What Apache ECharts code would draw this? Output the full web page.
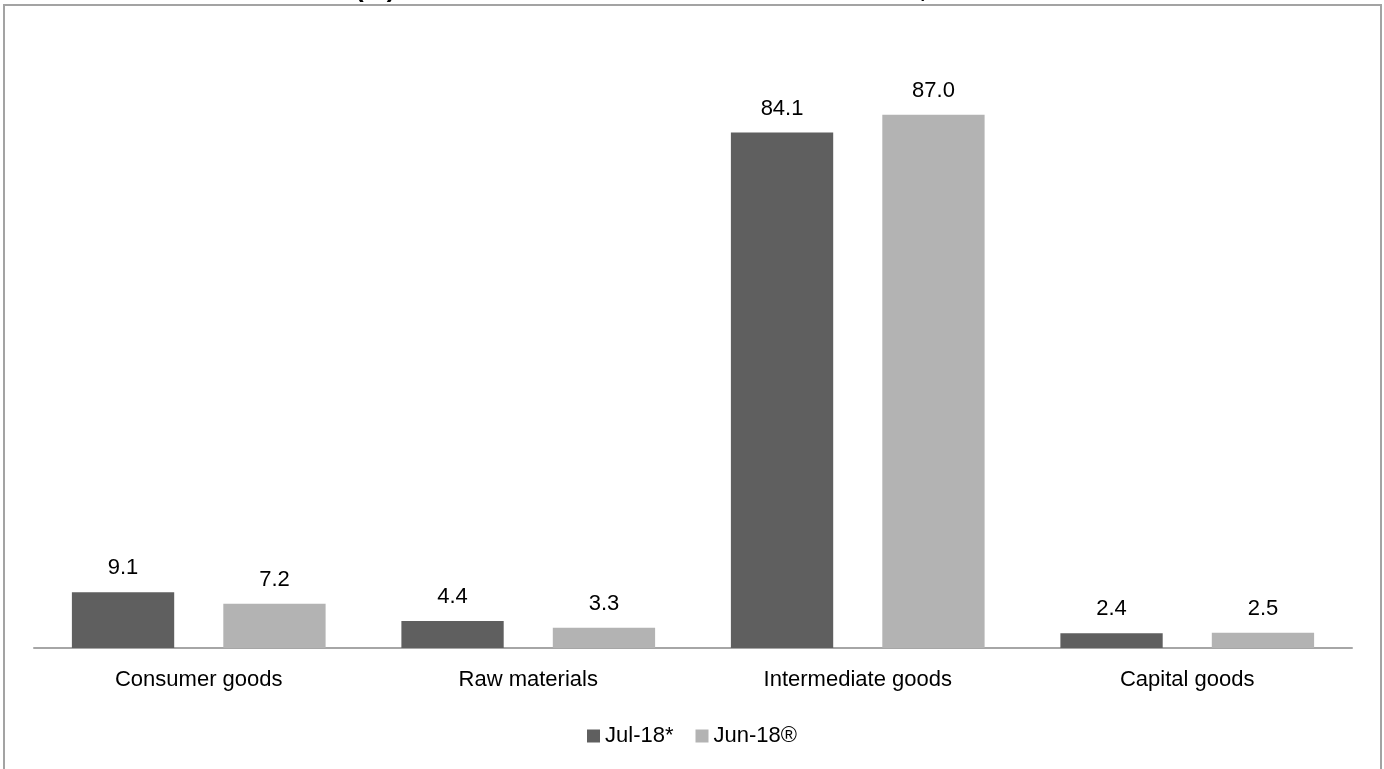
<!DOCTYPE html>
<html>
<head>
<meta charset="utf-8">
<script src="https://cdn.jsdelivr.net/npm/echarts@6/dist/echarts.min.js"></script>
<style>
html,body{margin:0;padding:0;background:#fff;}
#chart{width:1384px;height:769px;}
</style>
</head>
<body>
<div id="chart"></div>
<script>
const categories = ['Consumer goods', 'Raw materials', 'Intermediate goods', 'Capital goods'];
const seriesNames = ['Jul-18*', 'Jun-18®'];
const jul18 = [9.1, 4.4, 84.1, 2.4];
const jun18 = [7.2, 3.3, 87.0, 2.5];
const titleText = 'Table 3: Share (%) of Main Items in Total Value at Base Rates, Jul-18 and Jun-18';

const FONT = '"Liberation Sans Narrow", "Arial Narrow", "Liberation Sans", Arial, sans-serif';
const chart = echarts.init(document.getElementById('chart'));
const labelCfg = {
  show: true, position: 'top', distance: 13,
  fontFamily: FONT, fontSize: 22, color: '#000',
  formatter: p => p.value.toFixed(1)
};
chart.setOption({
  animation: false,
  backgroundColor: '#fff',
  graphic: [
    {
      type: 'rect', silent: true, z: -1,
      shape: { x: 4, y: 5, width: 1377, height: 900 },
      style: { fill: 'none', stroke: '#a3a3a3', lineWidth: 2 }
    },
    {
      type: 'text', silent: true,
      style: {
        text: titleText, x: 172, y: 3,
        textAlign: 'left', textVerticalAlign: 'bottom',
        font: 'bold 26px "Liberation Sans", Arial, sans-serif', fill: '#000'
      }
    }
  ],
  grid: { left: 34, right: 32, top: 35, bottom: 121, containLabel: false },
  legend: {
    data: seriesNames,
    bottom: 17, left: 'center',
    icon: 'rect', itemWidth: 13, itemHeight: 13, itemGap: 22,
    textStyle: { fontFamily: FONT, fontSize: 22, color: '#000' }
  },
  xAxis: {
    type: 'category', data: categories,
    axisLine: { lineStyle: { color: '#a6a6a6', width: 2 } },
    axisTick: { show: false },
    axisLabel: { fontFamily: FONT, fontSize: 22, color: '#000', margin: 21 }
  },
  yAxis: {
    type: 'value', min: 0, max: 100, show: false,
    splitLine: { show: false }
  },
  series: [
    {
      name: seriesNames[0], type: 'bar', data: jul18,
      barGap: '48%', barCategoryGap: '23%',
      itemStyle: { color: '#5f5f5f' }, label: labelCfg
    },
    {
      name: seriesNames[1], type: 'bar', data: jun18,
      itemStyle: { color: '#b3b3b3' }, label: labelCfg
    }
  ]
});
</script>
</body>
</html>
